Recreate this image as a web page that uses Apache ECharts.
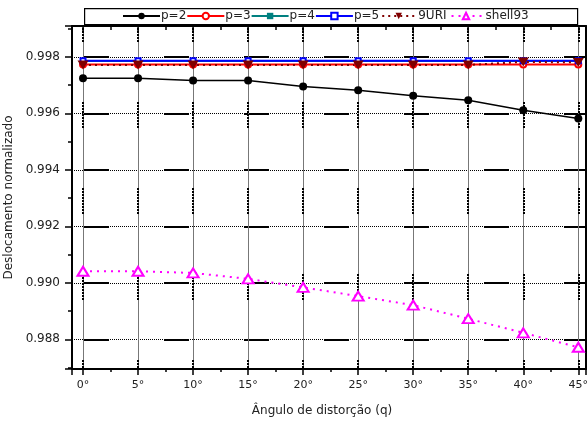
<!DOCTYPE html>
<html><head><meta charset="utf-8">
<script src="https://cdn.jsdelivr.net/npm/echarts@6/dist/echarts.min.js"></script>
<style>html,body{margin:0;padding:0;background:#fff}#c{width:587px;height:425px}</style>
</head><body><div id="c"></div>
<script>
// ---- data ----
const angles = [0, 5, 10, 15, 20, 25, 30, 35, 40, 45];
const p2 = [0.99724, 0.99724, 0.99716, 0.99716, 0.99695, 0.99682, 0.99662, 0.99646, 0.99611, 0.99582];
const p3 = [0.99773, 0.99773, 0.99773, 0.99773, 0.99773, 0.99773, 0.99773, 0.99773, 0.99773, 0.99773];
const p4 = [0.99785, 0.99785, 0.99785, 0.99785, 0.99785, 0.99785, 0.99785, 0.99785, 0.99785, 0.99785];
const p5 = [0.99786, 0.99786, 0.99786, 0.99786, 0.99786, 0.99786, 0.99786, 0.99786, 0.99786, 0.99786];
const uri9 = [0.99771, 0.99771, 0.99771, 0.99771, 0.99771, 0.99771, 0.99771, 0.99771, 0.99782, 0.99780];
const shell93 = [0.99041, 0.99041, 0.99035, 0.99014, 0.98984, 0.98953, 0.98921, 0.98873, 0.98823, 0.98772];
const seriesNames = ['p=2', 'p=3', 'p=4', 'p=5', '9URI', 'shell93'];
const xTickStep = 5;      // degrees
const yTickStep = 0.002;
const XMIN = -1, XMAX = 45.7;
const YMIN = 0.98695, YMAX = 0.99909;
const xTitle = 'Ângulo de distorção (q)';
const yTitle = 'Deslocamento normalizado';

// ---- chart ----
const FONT = 'DejaVu Sans';
const pairs = arr => angles.map((a, i) => [a, arr[i]]);
const xFmt = v => {
  const r = Math.round(v / xTickStep) * xTickStep;
  return (Math.abs(v - r) < 1e-6 && r >= 0 && r <= 45) ? r + '°' : '';
};
const yFmt = v => {
  const k = v * 1000, r = Math.round(k);
  return (Math.abs(k - r) < 1e-6 && r % 2 === 0 && v > YMIN + 1e-7 && v < YMAX - 1e-7) ? v.toFixed(3) : '';
};
const baseX = { type: 'value', min: XMIN, max: XMAX, minInterval: xTickStep, maxInterval: xTickStep, gridIndex: 0 };
const baseY = { type: 'value', min: YMIN, max: YMAX, minInterval: yTickStep, maxInterval: yTickStep, gridIndex: 0 };
const black = '#000';

const chart = echarts.init(document.getElementById('c'), null, { renderer: 'canvas' });
chart.setOption({
  animation: false,
  backgroundColor: '#fff',
  textStyle: { fontFamily: FONT },
  grid: { left: 72, right: 1, top: 26, bottom: 56, containLabel: false, outerBoundsMode: 'none' },
  graphic: [{ type: 'rect', left: 84, top: 8, shape: { width: 493, height: 16 }, style: { fill: '#fff', stroke: '#000', lineWidth: 1.2 }, z: -1 }],
  legend: {
    left: 122, top: 10, itemGap: 0, itemWidth: 37, itemHeight: 8, padding: 0,
    textStyle: { fontFamily: FONT, fontSize: 12, color: '#222', padding: [0, 0, 0, -4] },
    data: seriesNames
  },
  xAxis: [
    Object.assign({}, baseX, {
      position: 'bottom', name: xTitle, nameLocation: 'middle', nameGap: 36,
      nameTextStyle: { fontFamily: FONT, fontSize: 12, color: '#222', padding: [0, 14, 0, 0] },
      axisLine: { onZero: false, lineStyle: { color: black, width: 2 } },
      axisTick: { show: true, inside: false, length: 6, lineStyle: { color: black, width: 1.5 } },
      axisLabel: { formatter: xFmt, margin: 11, fontFamily: FONT, fontSize: 11, color: '#222' },
      splitLine: { show: true, lineStyle: { color: '#777', width: 1, type: 'solid' } }
    }),
    Object.assign({}, baseX, {
      position: 'top',
      axisLine: { onZero: false, lineStyle: { color: black, width: 2 } },
      axisTick: { show: true, inside: true, length: 6, lineStyle: { color: black, width: 1.5 } },
      axisLabel: { show: false },
      splitLine: { show: true, lineStyle: { color: '#000', width: 2, type: [2, 1, 2, 1, 2, 1, 2, 1, 2, 1, 2, 1, 2, 1, 2, 1, 2, 60], dashOffset: 10 } }
    }),
    Object.assign({}, baseX, {
      position: 'bottom', minInterval: xTickStep / 2, maxInterval: xTickStep / 2,
      axisLine: { show: false, onZero: false },
      axisTick: { show: true, inside: false, length: 3, lineStyle: { color: black, width: 1.5 } },
      axisLabel: { show: false }, splitLine: { show: false }
    }),
    Object.assign({}, baseX, {
      position: 'top', minInterval: xTickStep / 2, maxInterval: xTickStep / 2,
      axisLine: { show: false, onZero: false },
      axisTick: { show: true, inside: true, length: 4, lineStyle: { color: black, width: 1.5 } },
      axisLabel: { show: false }, splitLine: { show: false }
    })
  ],
  yAxis: [
    Object.assign({}, baseY, {
      position: 'left', name: yTitle, nameLocation: 'middle', nameGap: 44, nameRotate: 90,
      nameTextStyle: { fontFamily: FONT, fontSize: 12, color: '#222' },
      axisLine: { onZero: false, lineStyle: { color: black, width: 2 } },
      axisTick: { show: true, inside: false, length: 7, lineStyle: { color: black, width: 1.5 } },
      axisLabel: { formatter: yFmt, margin: 12, fontFamily: FONT, fontSize: 12, color: '#222' },
      splitLine: { show: true, lineStyle: { color: '#000', width: 1, type: [1, 1] } }
    }),
    Object.assign({}, baseY, {
      position: 'right',
      axisLine: { onZero: false, lineStyle: { color: black, width: 2 } },
      axisTick: { show: true, inside: true, length: 6, lineStyle: { color: black, width: 1.5 } },
      axisLabel: { show: false },
      splitLine: { show: true, lineStyle: { color: '#000', width: 2, type: [25, 55], dashOffset: -12 } }
    }),
    Object.assign({}, baseY, {
      position: 'left', minInterval: yTickStep / 2, maxInterval: yTickStep / 2,
      axisLine: { show: false, onZero: false },
      axisTick: { show: true, inside: false, length: 4, lineStyle: { color: black, width: 1.5 } },
      axisLabel: { show: false }, splitLine: { show: false }
    })
  ],
  series: [
    { name: 'p=2', type: 'line', data: pairs(p2), symbol: 'circle', symbolSize: 8,
      lineStyle: { color: '#000', width: 1.5 }, itemStyle: { color: '#000' } },
    { name: 'p=3', type: 'line', data: pairs(p3), symbol: 'emptyCircle', symbolSize: 6,
      lineStyle: { color: '#ff0000', width: 2 }, itemStyle: { color: '#ff0000', borderWidth: 2 } },
    { name: 'p=4', type: 'line', data: pairs(p4), symbol: 'rect', symbolSize: 6,
      lineStyle: { color: '#008080', width: 2 }, itemStyle: { color: '#008080' } },
    { name: 'p=5', type: 'line', data: pairs(p5), symbol: 'emptyRect', symbolSize: 5,
      lineStyle: { color: '#0000ff', width: 2 }, itemStyle: { color: '#0000ff', borderWidth: 2 } },
    { name: '9URI', type: 'line', data: pairs(uri9), symbol: 'triangle', symbolRotate: 180, symbolSize: [11, 9],
      lineStyle: { color: '#800000', width: 2, type: [2, 4] }, itemStyle: { color: '#800000' } },
    { name: 'shell93', type: 'line', data: pairs(shell93), symbol: 'emptyTriangle', symbolSize: [11, 9],
      lineStyle: { color: '#ff00ff', width: 2, type: [2, 5] }, itemStyle: { color: '#ff00ff', borderWidth: 2 } }
  ]
});
</script>
</body></html>
